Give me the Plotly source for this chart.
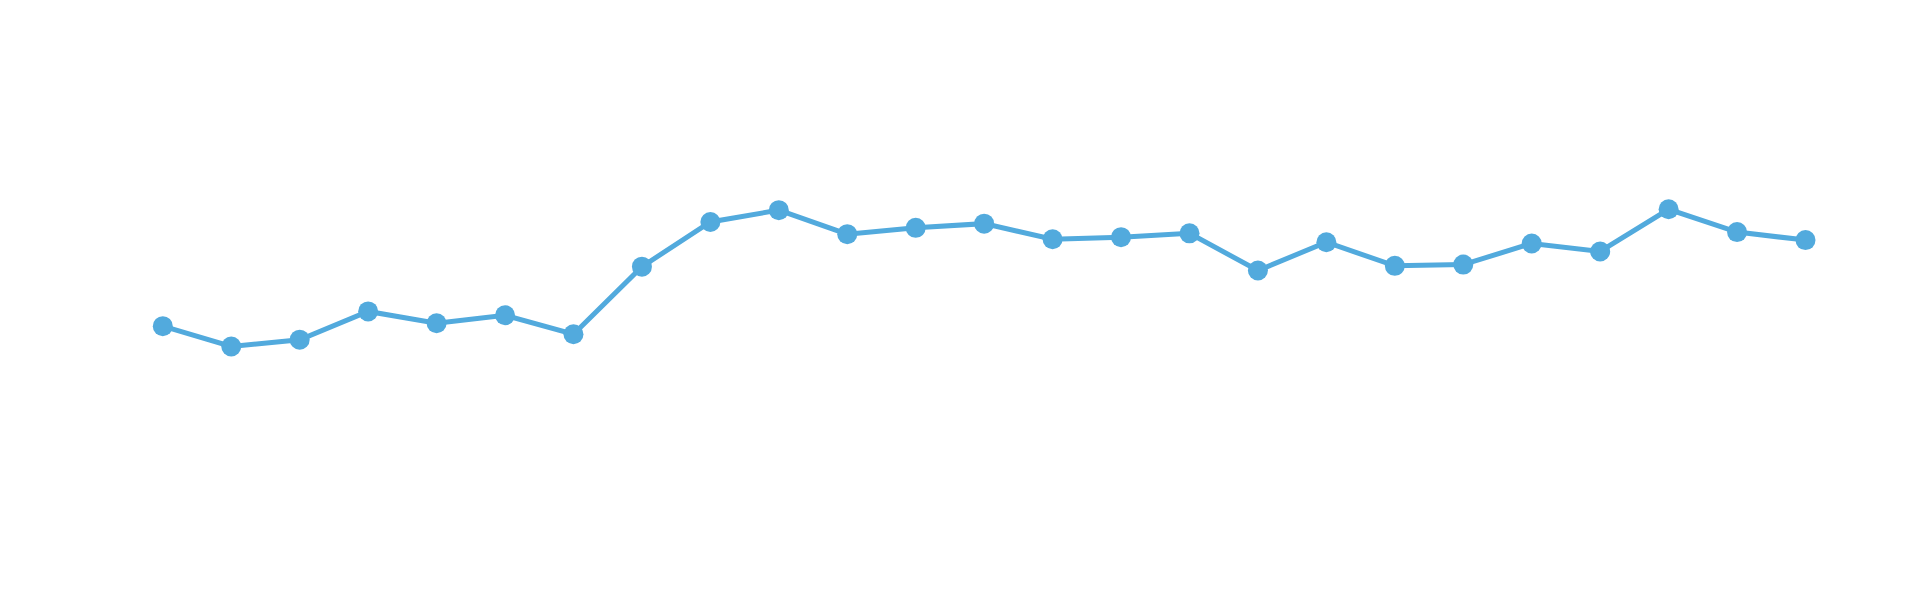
import plotly.graph_objects as go

# categories (index positions) and series values
periods = list(range(25))
values = [46.4, 41.6, 43.2, 49.9, 47.1, 49.0, 44.5, 60.5, 71.1, 73.9,
          68.2, 69.7, 70.7, 67.0, 67.5, 68.4, 59.6, 66.3, 60.7, 61.0,
          66.0, 64.1, 74.1, 68.7, 66.8]

line_color = "#52aadd"

fig = go.Figure(
    go.Scatter(
        x=periods,
        y=values,
        mode="lines+markers",
        line=dict(color=line_color, width=5),
        marker=dict(color=line_color, size=20),
        showlegend=False,
        hoverinfo="skip",
    )
)

fig.update_layout(
    width=1920,
    height=602,
    margin=dict(l=80, r=80, t=100, b=80),
    paper_bgcolor="white",
    plot_bgcolor="white",
    xaxis=dict(visible=False, range=[-1.093, 24.621]),
    yaxis=dict(visible=False, range=[-1.896, 98.104]),
)

fig.write_html("out.html")
